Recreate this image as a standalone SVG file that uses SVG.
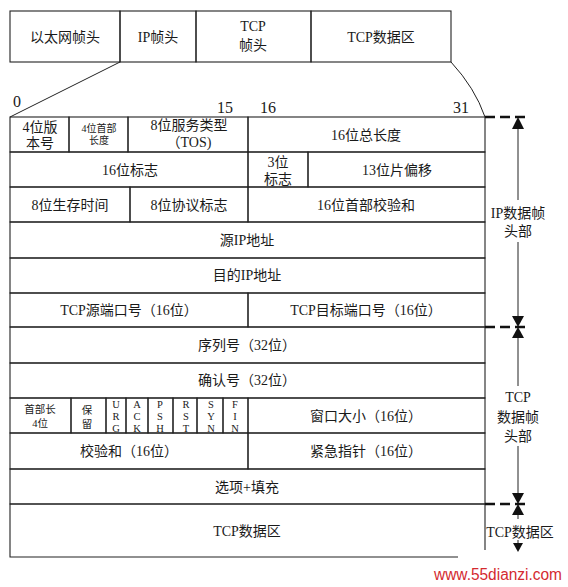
<svg xmlns="http://www.w3.org/2000/svg" width="568" height="587" viewBox="0 0 568 587">
<style>
.bg{fill:#fff}
.c{fill:none;stroke:#222;stroke-width:1.1}
.t{font-family:"Liberation Serif","Noto Sans CJK SC",serif;font-size:14px;fill:#1a1a1a;text-anchor:middle}
.s{font-size:10px}
.f{font-size:10.5px}
.n{font-family:"Liberation Serif",serif;font-size:16px;fill:#1a1a1a}
.ln{fill:none;stroke:#222;stroke-width:1}
.ds{fill:none;stroke:#111;stroke-width:2.6;stroke-dasharray:10 5}
.ar{fill:#111}
.wm{font-family:"Liberation Sans",Arial,sans-serif;font-size:16px;fill:#d42a2f}
</style>
<rect class="bg" x="0" y="0" width="568" height="587"/>

<!-- top frame -->
<g id="eth"><rect class="c" x="10" y="11" width="110" height="51"/><text class="t" x="65" y="42">以太网帧头</text></g>
<g id="iphdr"><rect class="c" x="120" y="11" width="76" height="51"/><text class="t" x="158" y="42">IP帧头</text></g>
<g id="tcphdr"><rect class="c" x="196" y="11" width="115" height="51"/><text class="t" x="253" y="31">TCP</text><text class="t" x="253" y="50">帧头</text></g>
<g id="tcpdata"><rect class="c" x="311" y="11" width="140" height="51"/><text class="t" x="381" y="42">TCP数据区</text></g>

<!-- bit labels -->
<g id="bits">
<text class="n" x="13" y="107">0</text>
<text class="n" x="217" y="113">15</text>
<text class="n" x="260" y="113">16</text>
<text class="n" x="453" y="113">31</text>
</g>

<!-- row 0 -->
<g id="ver"><rect class="c" x="10" y="117" width="59" height="35"/><text class="t" x="40" y="132">4位版</text><text class="t" x="40" y="148">本号</text></g>
<g id="ihl"><rect class="c" x="69" y="117" width="59" height="35"/><text class="t s" x="99" y="132">4位首部</text><text class="t s" x="99" y="144">长度</text></g>
<g id="tos"><rect class="c" x="128" y="117" width="120" height="35"/><text class="t" x="189" y="130">8位服务类型</text><text class="t" x="189" y="147">（TOS)</text></g>
<g id="totlen"><rect class="c" x="248" y="117" width="237" height="35"/><text class="t" x="366" y="140">16位总长度</text></g>
<!-- row 1 -->
<g id="ident"><rect class="c" x="10" y="152" width="238" height="35"/><text class="t" x="130" y="175">16位标志</text></g>
<g id="flags3"><rect class="c" x="248" y="152" width="60" height="35"/><text class="t" x="278" y="167">3位</text><text class="t" x="278" y="184">标志</text></g>
<g id="frag"><rect class="c" x="308" y="152" width="177" height="35"/><text class="t" x="397" y="175">13位片偏移</text></g>
<!-- row 2 -->
<g id="ttl"><rect class="c" x="10" y="187" width="120" height="35"/><text class="t" x="70" y="210">8位生存时间</text></g>
<g id="proto"><rect class="c" x="130" y="187" width="118" height="35"/><text class="t" x="189" y="210">8位协议标志</text></g>
<g id="hcsum"><rect class="c" x="248" y="187" width="237" height="35"/><text class="t" x="366" y="210">16位首部校验和</text></g>
<!-- row 3-4 -->
<g id="srcip"><rect class="c" x="10" y="222" width="475" height="36"/><text class="t" x="247" y="245">源IP地址</text></g>
<g id="dstip"><rect class="c" x="10" y="258" width="475" height="35"/><text class="t" x="247" y="280">目的IP地址</text></g>
<!-- row 5 -->
<g id="srcport"><rect class="c" x="10" y="293" width="238" height="34"/><text class="t" x="129" y="315">TCP源端口号（16位）</text></g>
<g id="dstport"><rect class="c" x="248" y="293" width="237" height="34"/><text class="t" x="366" y="315">TCP目标端口号（16位）</text></g>
<!-- row 6-7 -->
<g id="seq"><rect class="c" x="10" y="327" width="475" height="36"/><text class="t" x="247" y="350">序列号（32位）</text></g>
<g id="ack"><rect class="c" x="10" y="363" width="475" height="35"/><text class="t" x="247" y="385">确认号（32位）</text></g>
<!-- row 8 -->
<g id="hlen"><rect class="c" x="10" y="398" width="61" height="35"/><text class="t f" x="40" y="413">首部长</text><text class="t f" x="40" y="427">4位</text></g>
<g id="rsv"><rect class="c" x="71" y="398" width="35" height="35"/><text class="t f" x="87" y="414">保</text><text class="t f" x="87" y="428">留</text></g>
<g id="urg"><rect class="c" x="106" y="398" width="20" height="35"/><text class="t f" x="116" y="408">U</text><text class="t f" x="116" y="420">R</text><text class="t f" x="116" y="432">G</text></g>
<g id="ackf"><rect class="c" x="126" y="398" width="22" height="35"/><text class="t f" x="137" y="408">A</text><text class="t f" x="137" y="420">C</text><text class="t f" x="137" y="432">K</text></g>
<g id="psh"><rect class="c" x="148" y="398" width="25" height="35"/><text class="t f" x="160" y="408">P</text><text class="t f" x="160" y="420">S</text><text class="t f" x="160" y="432">H</text></g>
<g id="rst"><rect class="c" x="173" y="398" width="24" height="35"/><text class="t f" x="186" y="408">R</text><text class="t f" x="186" y="420">S</text><text class="t f" x="186" y="432">T</text></g>
<g id="syn"><rect class="c" x="197" y="398" width="26" height="35"/><text class="t f" x="211" y="408">S</text><text class="t f" x="211" y="420">Y</text><text class="t f" x="211" y="432">N</text></g>
<g id="fin"><rect class="c" x="223" y="398" width="25" height="35"/><text class="t f" x="235" y="408">F</text><text class="t f" x="235" y="420">I</text><text class="t f" x="235" y="432">N</text></g>
<g id="win"><rect class="c" x="248" y="398" width="237" height="35"/><text class="t" x="366" y="421">窗口大小（16位）</text></g>
<!-- row 9 -->
<g id="csum"><rect class="c" x="10" y="433" width="238" height="36"/><text class="t" x="129" y="456">校验和（16位）</text></g>
<g id="urgp"><rect class="c" x="248" y="433" width="237" height="36"/><text class="t" x="366" y="456">紧急指针（16位）</text></g>
<!-- row 10 -->
<g id="opts"><rect class="c" x="10" y="469" width="475" height="35"/><text class="t" x="247" y="492">选项+填充</text></g>
<!-- row 11 -->
<g id="data"><path class="c" d="M485,504 H10 V557 H458 M485,504 V550"/><text class="t" x="247" y="536">TCP数据区</text></g>

<!-- connectors -->
<g id="connectors">
<line class="ln" x1="120" y1="62" x2="10" y2="117"/>
<path class="ln" d="M451,62 Q475,88 485,117"/>
<line class="ds" x1="485" y1="117" x2="528" y2="117"/>
<line class="ds" x1="485" y1="327" x2="528" y2="327"/>
<line class="ds" x1="485" y1="504" x2="528" y2="504"/>
<line class="ln" x1="518" y1="127" x2="518" y2="200"/>
<line class="ln" x1="518" y1="242" x2="518" y2="317"/>
<line class="ln" x1="518" y1="337" x2="518" y2="386"/>
<line class="ln" x1="518" y1="446" x2="518" y2="494"/>
<line class="ln" x1="518" y1="514" x2="518" y2="519"/>
<line class="ln" x1="518" y1="540" x2="518" y2="544"/>
<polygon class="ar" points="518,117 512,129 524,129"/>
<polygon class="ar" points="518,327 512,316 524,316"/>
<polygon class="ar" points="518,327 512,338 524,338"/>
<polygon class="ar" points="518,504 512,493 524,493"/>
<polygon class="ar" points="518,504 512,515 524,515"/>
<polygon class="ar" points="518,552 513,543 523,543"/>
</g>

<!-- side labels -->
<g id="lbl-ip"><text class="t" x="518" y="218">IP数据帧</text><text class="t" x="518" y="236">头部</text></g>
<g id="lbl-tcp"><text class="t" x="518" y="402">TCP</text><text class="t" x="518" y="422">数据帧</text><text class="t" x="518" y="441">头部</text></g>
<g id="lbl-data"><text class="t" x="520" y="537">TCP数据区</text></g>

<text class="wm" x="434" y="580" textLength="128" lengthAdjust="spacingAndGlyphs">www.55dianzi.com</text>
</svg>
